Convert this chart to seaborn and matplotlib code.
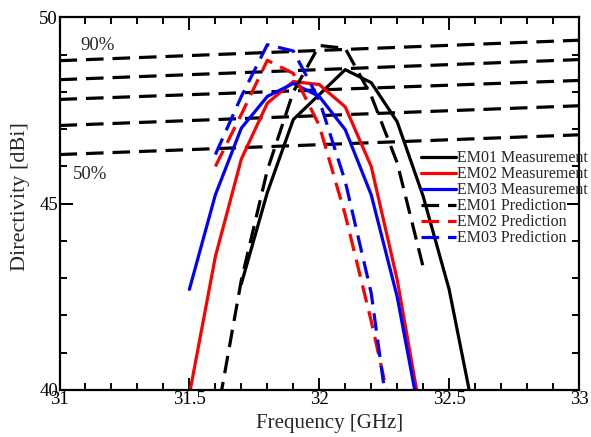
import matplotlib
matplotlib.use("Agg")
import matplotlib.pyplot as plt
import seaborn as sns
import pandas as pd

# ---- data ----
em01_meas_f = [31.7, 31.8, 31.9, 32.0, 32.1, 32.2, 32.3, 32.4, 32.5, 32.6]
em01_meas_d = [42.85, 45.3, 47.26, 47.93, 48.6, 48.25, 47.2, 45.2, 42.7, 39.2]

em02_meas_f = [31.5, 31.6, 31.7, 31.8, 31.9, 32.0, 32.1, 32.2, 32.3, 32.4]
em02_meas_d = [39.88, 43.58, 46.2, 47.7, 48.28, 48.2, 47.6, 46.0, 42.96, 39.0]

em03_meas_f = [31.5, 31.6, 31.7, 31.8, 31.9, 32.0, 32.1, 32.2, 32.3, 32.4]
em03_meas_d = [42.7, 45.24, 47.03, 47.88, 48.23, 47.88, 46.99, 45.24, 42.5, 38.8]

em01_pred_f = [31.6, 31.7, 31.8, 31.9, 32.0, 32.1, 32.2, 32.3, 32.4]
em01_pred_d = [39.05, 42.95, 45.9, 48.0, 49.25, 49.17, 47.9, 46.1, 43.3]

em02_pred_f = [31.6, 31.7, 31.8, 31.9, 32.0, 32.1, 32.2, 32.3]
em02_pred_d = [46.0, 47.4, 48.85, 48.5, 47.1, 44.7, 41.85, 38.7]

em03_pred_f = [31.6, 31.7, 31.8, 31.9, 32.0, 32.1, 32.2, 32.3]
em03_pred_d = [46.32, 47.88, 49.27, 49.1, 47.78, 45.6, 42.6, 37.5]

eff_f = [31.0, 33.0]
eff_labels = ["90%", "80%", "70%", "60%", "50%"]
eff_d_start = [48.84, 48.33, 47.80, 47.10, 46.32]
eff_d_end = [49.39, 48.87, 48.31, 47.63, 46.85]

x_ticks = [31, 31.5, 32, 32.5, 33]
x_tick_labels = ["31", "31.5", "32", "32.5", "33"]
y_ticks = [40, 45, 50]

# ---- style ----
sns.set_theme(style="white")
plt.rcParams["font.family"] = ["Liberation Serif", "DejaVu Serif"]

fig = plt.figure(figsize=(5.91, 4.37), dpi=100)
ax = fig.add_axes([0.1007, 0.1076, 0.8790, 0.8524])

lw = 2.3
dash = (5.5, 2.8)

# efficiency reference lines
for lab, d0, d1 in zip(eff_labels, eff_d_start, eff_d_end):
    sns.lineplot(x=eff_f, y=[d0, d1], ax=ax, color="black", lw=lw,
                 estimator=None, sort=False, legend=False)
    ax.lines[-1].set_dashes(dash)

series = [
    ("EM01 Measurement", em01_meas_f, em01_meas_d, "#000000", None),
    ("EM02 Measurement", em02_meas_f, em02_meas_d, "#ff0000", None),
    ("EM03 Measurement", em03_meas_f, em03_meas_d, "#0000ff", None),
    ("EM01 Prediction", em01_pred_f, em01_pred_d, "#000000", dash),
    ("EM02 Prediction", em02_pred_f, em02_pred_d, "#ff0000", dash),
    ("EM03 Prediction", em03_pred_f, em03_pred_d, "#0000ff", dash),
]
handles = []
for name, f, d, c, ds in series:
    sns.lineplot(x=f, y=d, ax=ax, color=c, lw=lw, estimator=None,
                 sort=False, legend=False)
    ln = ax.lines[-1]
    if ds is not None:
        ln.set_dashes(ds)
    ln.set_label(name)
    handles.append(ln)

ax.set_xlim(31, 33)
ax.set_ylim(40, 50)
ax.set_xticks(x_ticks)
ax.set_xticklabels(x_tick_labels)
ax.set_yticks(y_ticks)
ax.set_xticks([31 + 0.1 * i for i in range(21)], minor=True)
ax.set_yticks(list(range(40, 51)), minor=True)

for s in ax.spines.values():
    s.set_linewidth(1.6)
    s.set_color("black")
    s.set_visible(True)

ax.tick_params(which="both", direction="in", top=True, right=True,
               bottom=True, left=True, colors="black", width=1.4)
ax.tick_params(which="major", length=9, labelsize=13.5, pad=1)
ax.tick_params(which="minor", length=5)

ax.set_xlabel("Frequency [GHz]", fontsize=15)
ax.xaxis.set_label_coords(0.52, -0.064, transform=ax.transAxes)
ax.set_ylabel("Directivity [dBi]", fontsize=16)
ax.yaxis.set_label_coords(-0.057, 0.52, transform=ax.transAxes)

ax.text(31.079, 49.25, "90%", fontsize=13.5, va="center", ha="left")
ax.text(31.052, 45.78, "50%", fontsize=13.5, va="center", ha="left")

leg = ax.legend(handles=handles, loc="upper left",
                bbox_to_anchor=(0.695, 0.643), frameon=False,
                fontsize=11.5, handlelength=2.2, handletextpad=0.1,
                labelspacing=0.0, borderpad=0, borderaxespad=0)
for h in leg.get_lines():
    h.set_linewidth(lw)

fig.savefig("out.png", dpi=100)
